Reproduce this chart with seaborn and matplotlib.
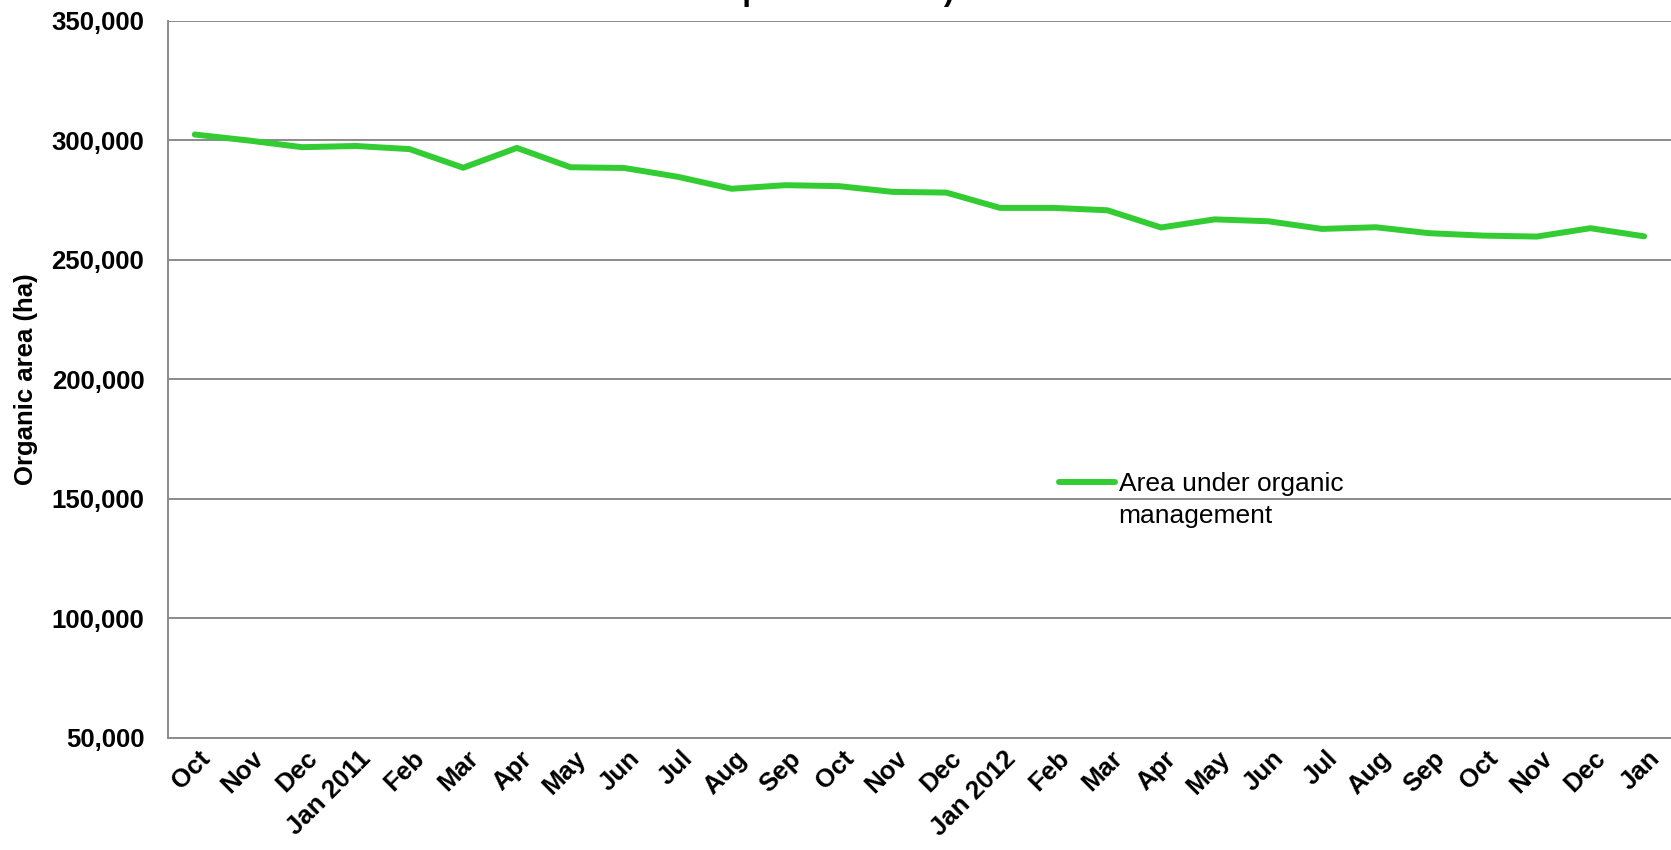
import matplotlib
matplotlib.use("Agg")
import matplotlib.pyplot as plt
import matplotlib.transforms as mtransforms
import numpy as np
import pandas as pd
import seaborn as sns

# Data (hectares)
months = ['Oct', 'Nov', 'Dec', 'Jan 2011', 'Feb', 'Mar', 'Apr', 'May', 'Jun', 'Jul',
          'Aug', 'Sep', 'Oct', 'Nov', 'Dec', 'Jan 2012', 'Feb', 'Mar', 'Apr', 'May',
          'Jun', 'Jul', 'Aug', 'Sep', 'Oct', 'Nov', 'Dec', 'Jan']
organic_area = [302500, 300000, 297200, 297700, 296400, 288600, 296900, 288800, 288500, 284800,
                279800, 281300, 280900, 278500, 278200, 271800, 271800, 270800, 263600, 267000,
                266200, 263000, 263700, 261200, 260200, 259800, 263300, 259900]
y_ticks = [50000, 100000, 150000, 200000, 250000, 300000, 350000]

df = pd.DataFrame({'pos': np.arange(len(months)), 'area': organic_area})

sns.set_style("white")
plt.rcParams['font.family'] = ['Liberation Sans', 'DejaVu Sans']
plt.rcParams['text.color'] = 'black'
plt.rcParams['xtick.labelcolor'] = 'black'
plt.rcParams['ytick.labelcolor'] = 'black'
plt.rcParams['axes.labelcolor'] = 'black'

fig = plt.figure(figsize=(16.71, 8.5), dpi=100)
ax = fig.add_axes([0.1005, 0.1318, 0.8995, 0.8435])

grey = '#8a8a8a'
for yv in y_ticks[1:]:
    ax.axhline(yv, color=grey, linewidth=1.4, zorder=1)

sns.lineplot(data=df, x='pos', y='area', ax=ax, color='#33cc33', linewidth=4.3,
             solid_capstyle='round', label='Area under organic', zorder=3)

ax.set_xlim(-0.5, len(months) - 0.5)
ax.set_ylim(50000, 350000)
ax.set_yticks(y_ticks)
ax.set_yticklabels([f'{v:,}' for v in y_ticks], fontsize=18.5, fontweight='bold')

# category boundaries carry the tick marks, centres carry the labels
ax.set_xticks(np.arange(-0.5, len(months), 1))
ax.set_xticklabels([])
ax.set_xticks(np.arange(len(months)), minor=True)
ax.set_xticklabels(months, minor=True, rotation=45, ha='right', va='top',
                   rotation_mode='anchor', fontsize=18.5, fontweight='bold')
ax.tick_params(axis='x', which='major', length=8, width=1.4, color=grey, direction='out')
ax.tick_params(axis='x', which='minor', length=0, pad=6)
ax.tick_params(axis='y', length=8, width=1.4, color=grey, direction='out', pad=9)
shift = mtransforms.ScaledTranslation(0.03, 0, fig.dpi_scale_trans)
for lbl in ax.get_xticklabels(minor=True):
    lbl.set_transform(lbl.get_transform() + shift)

for side in ['top', 'right']:
    ax.spines[side].set_visible(False)
for side in ['left', 'bottom']:
    ax.spines[side].set_color(grey)
    ax.spines[side].set_linewidth(1.4)

ax.set_xlabel('')
ax.set_ylabel('Organic area (ha)', fontsize=18.5, fontweight='bold', labelpad=10)

leg = ax.legend(loc='upper left', bbox_to_anchor=(0.593, 0.371), frameon=False,
                fontsize=19, handlelength=2.1, handletextpad=0.15, borderpad=0,
                borderaxespad=0)

# second line of the legend label, set under the first one
fig.canvas.draw()
bb = leg.get_texts()[0].get_window_extent()
fig.text(bb.x0 / fig.bbox.width, (bb.y0 - 32) / fig.bbox.height, 'management',
         ha='left', va='bottom', fontsize=19)

# title sits mostly above the visible canvas, as in the source image
fig.text(0.496, 0.9995, 'September 2012)', ha='center', va='baseline',
         fontsize=22.5, fontweight='bold')

fig.savefig('out.png', dpi=100)
